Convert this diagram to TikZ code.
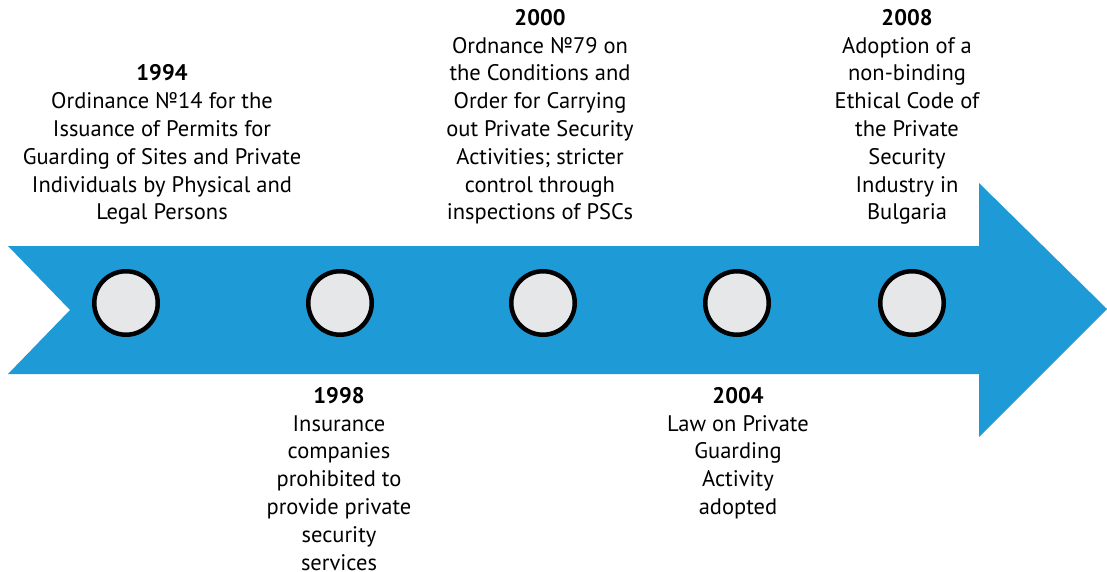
\documentclass[tikz,border=0pt]{standalone}
\usepackage{fontspec}
\setmainfont{PT Sans}
\usetikzlibrary{positioning}

\definecolor{setablue}{RGB}{30,154,214}
\definecolor{dotgray}{RGB}{230,231,232}

\tikzset{
    marker/.style={circle, draw=black, line width=4.5pt, fill=dotgray, minimum size=63.5pt, inner sep=0pt},
    eventtext/.style={align=center, inner sep=0pt, font=\fontsize{22.5}{27.8}\selectfont},
    upper/.style={eventtext, anchor=south, text depth=0pt},
    lower/.style={eventtext, anchor=north}
}

\begin{document}
\begin{tikzpicture}[x=1pt, y=-1pt]
    \useasboundingbox (0,0) rectangle (1107,572);

    % Pfeil
    \fill[setablue] (8,246) -- (979,246) -- (979,183) -- (1107,309) -- (979,437)
        -- (979,374) -- (8,374) -- (70,310) -- cycle;

    % Markierungen auf dem Pfeil
    \node[marker] (c1) at (126,303) {};
    \node[marker] (c2) at (340,303) {};
    \node[marker] (c3) at (543,303) {};
    \node[marker] (c4) at (737,303) {};
    \node[marker] (c5) at (912,303) {};

    % Ereignisse oberhalb
    \node[upper] (t1994) at (162,220) {\textbf{1994}\\Ordinance №14 for the\\Issuance of Permits for\\Guarding of Sites and Private\\Individuals by Physical and\\Legal Persons};
    \node[upper] (t2000) at (540,220) {\textbf{2000}\\Ordnance №79 on\\the Conditions and\\Order for Carrying\\out Private Security\\Activities; stricter\\control through\\inspections of PSCs};
    \node[upper] (t2008) at (907,220) {\textbf{2008}\\Adoption of a\\non-binding\\Ethical Code of\\the Private\\Security\\Industry in\\Bulgaria};

    % Ereignisse unterhalb
    \node[lower] (t1998) at (339,387) {\textbf{1998}\\Insurance\\companies\\prohibited to\\provide private\\security\\services};
    \node[lower] (t2004) at (738,387) {\textbf{2004}\\Law on Private\\Guarding\\Activity\\adopted};
\end{tikzpicture}
\end{document}
